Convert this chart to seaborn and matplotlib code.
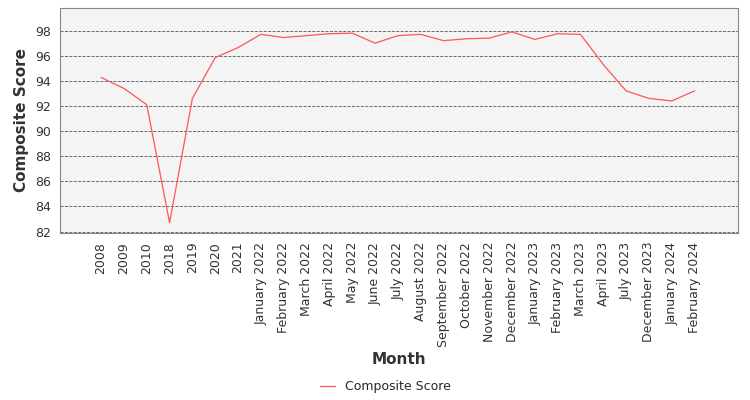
import matplotlib
matplotlib.use("Agg")
import matplotlib.pyplot as plt
import seaborn as sns
import pandas as pd

months = ["2008","2009","2010","2018","2019","2020","2021","January 2022","February 2022","March 2022",
          "April 2022","May 2022","June 2022","July 2022","August 2022","September 2022","October 2022",
          "November 2022","December 2022","January 2023","February 2023","March 2023","April 2023",
          "July 2023","December 2023","January 2024","February 2024"]
scores = [94.27,93.4,92.1,82.7,92.6,95.85,96.65,97.7,97.45,97.6,97.75,97.8,97.0,97.6,97.7,97.2,97.35,
          97.4,97.9,97.3,97.75,97.7,95.3,93.2,92.6,92.4,93.2]
yticks = [82,84,86,88,90,92,94,96,98]

df = pd.DataFrame({"Month": months, "Composite Score": scores, "x": range(len(months))})

sns.set_style("white")
plt.rcParams['font.family'] = ['DejaVu Sans']
fig = plt.figure(figsize=(7.5,4), dpi=100)
ax = fig.add_axes([0.08, 0.418, 0.904, 0.562])
ax.set_facecolor("#f4f4f4")
sns.lineplot(data=df, x="x", y="Composite Score", ax=ax, color="#ff5555", linewidth=0.9, label="Composite Score")
ax.set_xticks(df["x"])
ax.set_xticklabels(months, rotation=90, fontsize=9, color="#333333")
ax.set_yticks(yticks)
ax.set_yticklabels([str(v) for v in yticks], fontsize=9, color="#333333")
ax.set_xlim(-1.8, 27.9)
ax.set_ylim(81.9, 99.8)
ax.yaxis.grid(True, linestyle="--", color="#555555", linewidth=0.6)
ax.xaxis.grid(False)
for s in ax.spines.values():
    s.set_color("#888888"); s.set_linewidth(0.8)
ax.tick_params(axis="both", length=3, color="#888888")
ax.set_xlabel("Month", fontsize=11, fontweight="bold", color="#333333")
ax.set_ylabel("Composite Score", fontsize=11, fontweight="bold", color="#333333")
ax.legend(loc="center", bbox_to_anchor=(0.48, -0.684), frameon=False, fontsize=9, handlelength=1.2)
fig.savefig("out.png", dpi=100)
